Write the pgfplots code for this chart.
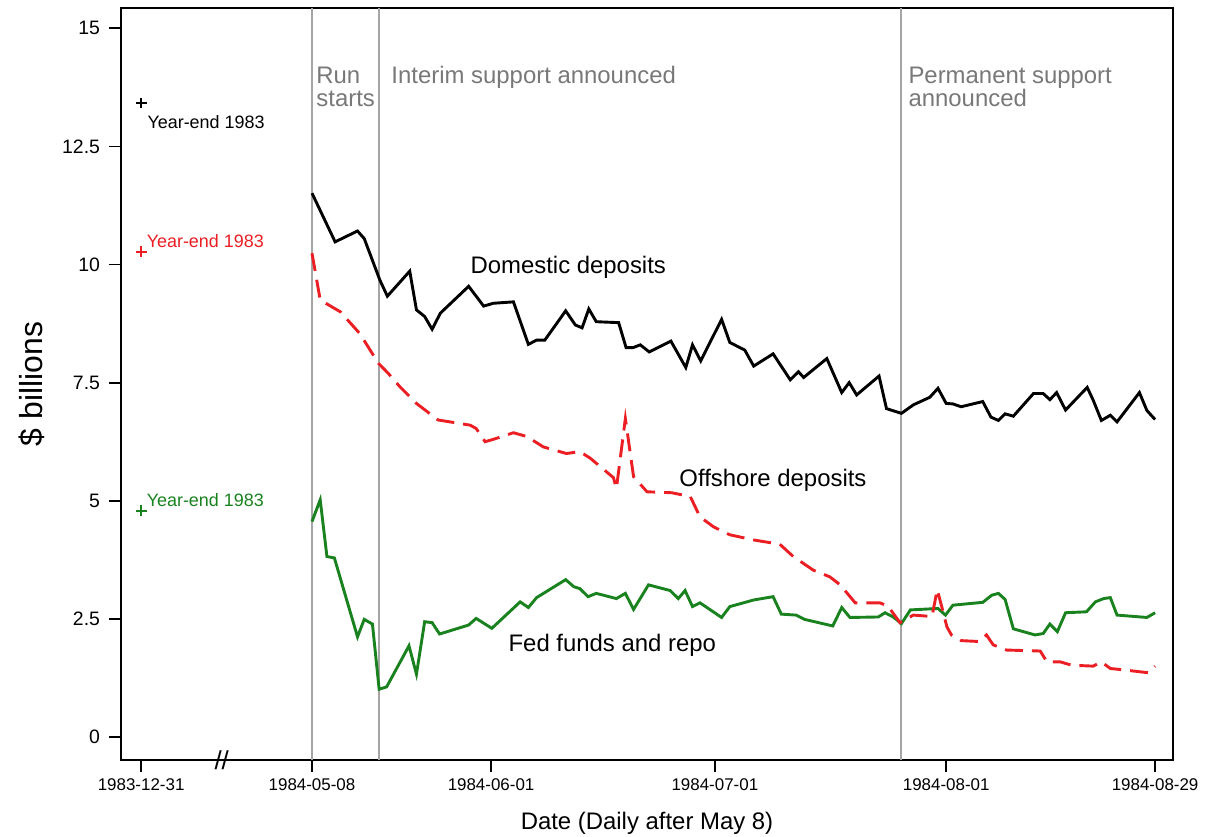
\documentclass[border=0pt]{standalone}
\usepackage{fontspec}
\setmainfont{Liberation Sans}
\usepackage{pgfplots}
\pgfplotsset{compat=1.18}
\definecolor{myred}{RGB}{235,30,35}
\definecolor{mygreen}{RGB}{25,130,30}
\definecolor{vgray}{RGB}{165,165,165}
\definecolor{tgray}{RGB}{120,120,120}
\begin{document}
\begin{tikzpicture}
\useasboundingbox (-60.5bp,-38.5bp) rectangle (546bp,380bp);
\begin{axis}[
 scale only axis, width=526bp, height=376bp,
 xmin=-25.6, xmax=115.4, ymin=-0.487, ymax=15.43,
 axis line style={line width=1.1bp},
 tick align=outside, major tick length=6bp,
 major tick style={line width=0.9bp, black},
 xtick pos=bottom, ytick pos=left,
 xtick={-22.9,0,24,54,85,113},
 xticklabels={1983-12-31,1984-05-08,1984-06-01,1984-07-01,1984-08-01,1984-08-29},
 ytick={0,2.5,5,7.5,10,12.5,15},
 yticklabels={0,2.5,5,7.5,10,12.5,15},
 xticklabel style={font=\fontsize{8.5}{10}\selectfont},
 yticklabel style={font=\fontsize{9.75}{11}\selectfont, xshift=-1bp},
 /pgf/number format/assume math mode=true,
 xlabel={Date (Daily after May 8)},
 ylabel={\$ billions},
 xlabel style={font=\fontsize{12}{14}\selectfont, at={(axis description cs:0.5,0)}, anchor=base, yshift=-34.5bp},
 ylabel style={font=\fontsize{16}{18}\selectfont, at={(axis description cs:0,0.5)}, anchor=center, yshift=44.5bp},
 clip=false,
]
% event lines
\addplot[vgray, line width=1bp] coordinates {(0,-0.487) (0,15.43)};
\addplot[vgray, line width=1bp] coordinates {(9,-0.487) (9,15.43)};
\addplot[vgray, line width=1bp] coordinates {(79,-0.487) (79,15.43)};
% domestic deposits
\addplot[black, line width=1.45bp] coordinates {
(0,11.51) (3.1,10.48) (6.1,10.71) (7.0,10.55) (9.1,9.67) (10.1,9.33) (13.1,9.86) (14.0,9.04)
(15.1,8.90) (16.1,8.63) (17.2,8.97) (21.0,9.54) (23.0,9.12) (24.3,9.18) (27.0,9.21) (29.0,8.31)
(30.1,8.40) (31.2,8.40) (34.0,9.02) (35.3,8.72) (36.2,8.66) (37.1,9.06) (38.1,8.79) (41.1,8.77)
(42.1,8.24) (43.0,8.24) (44.0,8.30) (45.2,8.15) (48.1,8.38) (50.1,7.82) (51.0,8.30) (52.1,7.96)
(54.9,8.84) (56.0,8.35) (58.0,8.19) (59.2,7.85) (61.8,8.11) (64.1,7.56) (65.2,7.73) (65.9,7.61)
(69.0,8.01) (71.0,7.29) (72.0,7.50) (73.0,7.24) (76.0,7.64) (77.0,6.95) (79.0,6.85) (80.6,7.03)
(82.8,7.19) (83.9,7.38) (85.0,7.06) (85.9,7.05) (87.0,6.99) (89.9,7.10) (91.0,6.77) (92.0,6.70)
(92.9,6.84) (94.0,6.79) (96.7,7.27) (98.0,7.27) (98.9,7.14) (99.8,7.29) (101.0,6.92) (103.9,7.40)
(104.7,7.13) (105.8,6.70) (107.0,6.81) (107.9,6.67) (110.9,7.29) (111.9,6.91) (113.0,6.72)};
% fed funds and repo
\addplot[mygreen, line width=1.45bp] coordinates {
(0,4.56) (1.1,5.02) (2.0,3.82) (3.0,3.79) (6.1,2.12) (7.0,2.49) (8.1,2.39) (9.0,1.01) (10.0,1.06)
(13.0,1.93) (14.0,1.33) (15.1,2.44) (16.1,2.42) (17.1,2.18) (21.0,2.37) (22.0,2.51) (24.1,2.30)
(27.9,2.86) (29.0,2.74) (30.1,2.95) (34.0,3.33) (35.1,3.18) (35.9,3.14) (37.0,2.97) (38.1,3.04)
(40.8,2.93) (42.0,3.04) (43.1,2.70) (45.1,3.22) (48.0,3.10) (49.1,2.93) (50.0,3.10) (51.0,2.76)
(52.0,2.84) (54.9,2.53) (56.0,2.76) (59.2,2.90) (61.8,2.97) (62.9,2.60) (64.9,2.58) (66.0,2.49)
(69.8,2.35) (71.0,2.74) (72.1,2.53) (75.9,2.54) (76.8,2.63) (77.9,2.54) (79.0,2.40) (80.2,2.69)
(83.9,2.72) (84.9,2.58) (85.9,2.79) (89.9,2.85) (91.1,3.00) (92.0,3.04) (92.9,2.91) (94.0,2.29)
(96.9,2.16) (98.0,2.19) (98.9,2.39) (99.9,2.23) (101.0,2.63) (103.8,2.65) (105.0,2.86) (106.1,2.93)
(107.0,2.95) (107.9,2.58) (111.9,2.53) (113.0,2.63)};
% offshore deposits
\addplot[myred, line width=1.45bp, dash pattern=on 9bp off 4.5bp] coordinates {
(0,10.24) (1.1,9.25) (2.6,9.11) (3.8,9.00) (6.4,8.54) (8.9,7.91) (10.2,7.70) (11.8,7.41) (14.0,7.06)
(16.9,6.71) (21.2,6.60) (22.0,6.53) (23.2,6.25) (24.3,6.30) (27.0,6.44) (28.8,6.36) (31.0,6.14)
(34.1,6.00) (35.9,6.04) (37.3,5.90) (40.4,5.49) (40.8,5.26) (42.0,6.74) (43.1,5.51) (44.9,5.19)
(48.2,5.17) (50.7,5.09) (52.0,4.66) (53.8,4.45) (56.0,4.28) (59.2,4.17) (62.7,4.08) (64.5,3.82)
(67.2,3.53) (69.4,3.39) (70.8,3.22) (72.8,2.84) (76.1,2.84) (77.2,2.77) (78.8,2.42) (80.6,2.58)
(83.1,2.55) (83.8,3.12) (84.4,2.76) (85.1,2.33) (85.7,2.16) (87.0,2.04) (89.5,2.02) (90.4,2.16)
(91.3,1.95) (93.1,1.84) (97.6,1.82) (98.5,1.59) (100.3,1.59) (101.8,1.52) (104.7,1.50) (105.8,1.59)
(107.0,1.45) (108.8,1.42) (112.1,1.36) (113.0,1.50)};
% year-end 1983 values
\addplot[only marks, mark=+, mark size=2.7bp, mark options={line width=1.1bp, black}] coordinates {(-22.9,13.42)};
\addplot[only marks, mark=+, mark size=2.7bp, mark options={line width=1.1bp, myred}] coordinates {(-22.9,10.27)};
\addplot[only marks, mark=+, mark size=2.7bp, mark options={line width=1.1bp, mygreen}] coordinates {(-22.9,4.79)};
\node[anchor=base west, inner sep=0, font=\fontsize{9}{10}\selectfont, text=black] at (axis cs:-22.1,12.87) {Year-end 1983};
\node[anchor=base west, inner sep=0, font=\fontsize{9}{10}\selectfont, text=myred] at (axis cs:-22.2,10.36) {Year-end 1983};
\node[anchor=base west, inner sep=0, font=\fontsize{9}{10}\selectfont, text=mygreen] at (axis cs:-22.2,4.87) {Year-end 1983};
% event labels
\node[anchor=base west, inner sep=0, font=\fontsize{12}{14}\selectfont, text=tgray] at (axis cs:0.54,13.83) {Run};
\node[anchor=base west, inner sep=0, font=\fontsize{12}{14}\selectfont, text=tgray] at (axis cs:0.54,13.35) {starts};
\node[anchor=base west, inner sep=0, font=\fontsize{12}{14}\selectfont, text=tgray] at (axis cs:10.6,13.83) {Interim support announced};
\node[anchor=base west, inner sep=0, font=\fontsize{12}{14}\selectfont, text=tgray] at (axis cs:79.9,13.83) {Permanent support};
\node[anchor=base west, inner sep=0, font=\fontsize{12}{14}\selectfont, text=tgray] at (axis cs:79.9,13.35) {announced};
% series labels
\node[anchor=base west, inner sep=0, font=\fontsize{12}{14}\selectfont] at (axis cs:21.2,9.82) {Domestic deposits};
\node[anchor=base west, inner sep=0, font=\fontsize{12}{14}\selectfont] at (axis cs:49.2,5.31) {Offshore deposits};
\node[anchor=base west, inner sep=0, font=\fontsize{12}{14}\selectfont] at (axis cs:26.3,1.80) {Fed funds and repo};
% axis break mark
\node[inner sep=0, font=\fontsize{13}{14}\selectfont] at (axis cs:-12.1,-0.487) {//};
\end{axis}
\end{tikzpicture}
\end{document}
